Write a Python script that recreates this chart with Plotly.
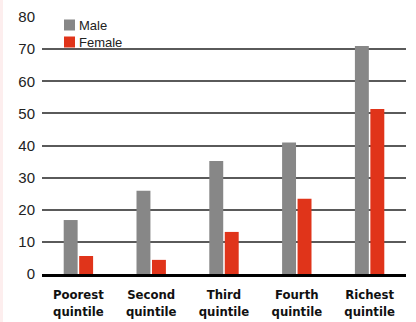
import plotly.graph_objects as go

categories = ["Poorest<br>quintile", "Second<br>quintile", "Third<br>quintile", "Fourth<br>quintile", "Richest<br>quintile"]
male = [16.8, 25.9, 35.2, 40.9, 71.0]
female = [5.6, 4.4, 13.1, 23.4, 51.4]
y_ticks = [0, 10, 20, 30, 40, 50, 60, 70, 80]
series_names = ["Male", "Female"]
series_colors = ["#878787", "#e0341a"]

fig = go.Figure()
for name, vals, col in zip(series_names, [male, female], series_colors):
    fig.add_trace(go.Bar(x=categories, y=vals, name=name, marker=dict(color=col, line_width=0),
                         showlegend=False))

# compact legend (symbol right next to text, as in the reference)
W, H = 364, 257
shapes = [dict(type="rect", xref="paper", yref="paper", x0=-42/W, x1=-39/W, y0=-0.2, y1=1.1,
               fillcolor="#fdeeee", line_width=0, layer="below")]
annotations = []
for i, (name, col) in enumerate(zip(series_names, series_colors)):
    yc = 1 - (8 + 17 * i) / H
    shapes.append(dict(type="rect", xref="paper", yref="paper",
                       x0=22/W, x1=33/W, y0=yc - 5.5/H, y1=yc + 5.5/H,
                       fillcolor=col, line_width=0))
    annotations.append(dict(text=name, xref="paper", yref="paper", x=35/W, y=yc,
                            xanchor="left", yanchor="middle", showarrow=False,
                            font=dict(family="Liberation Sans, Arial, sans-serif", size=13, color="#222")))

fig.update_layout(
    width=416, height=322,
    margin=dict(l=42, r=10, t=17, b=48),
    paper_bgcolor="white", plot_bgcolor="white",
    barmode="group", bargap=0.575, bargroupgap=0.1,
    font=dict(family="Liberation Sans, Arial, sans-serif", color="#222"),
    shapes=shapes, annotations=annotations,
)
fig.update_yaxes(range=[0, 80], tickvals=y_ticks, showgrid=True, gridcolor="#5a5a5a", gridwidth=1.7,
                 zeroline=False, showline=False, ticks="", ticklabelstandoff=6, automargin=False,
                 tickfont=dict(size=15, color="#222"))
fig.update_xaxes(showline=True, linecolor="black", linewidth=2.5, ticks="", ticklabelstandoff=7,
                 automargin=False,
                 tickfont=dict(family="Liberation Sans Narrow, Arial Narrow, DejaVu Sans Condensed, sans-serif",
                               size=13, color="#111", weight="bold"))

fig.write_html("out.html")
